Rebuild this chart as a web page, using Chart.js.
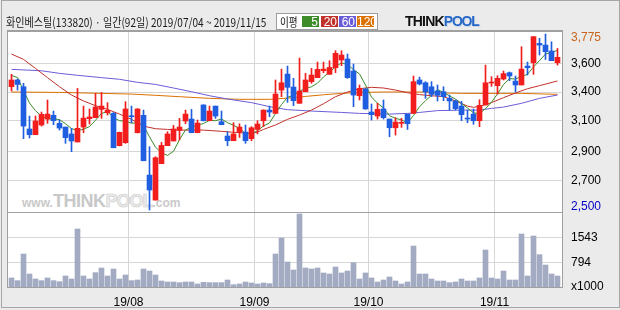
<!DOCTYPE html>
<html>
<head>
<meta charset="utf-8">
<script src="https://cdn.jsdelivr.net/npm/chart.js@4.4.1/dist/chart.umd.min.js"></script>
<style>
  body { margin: 0; background: #ebebeb; }
  #wrap { position: relative; width: 620px; height: 310px; overflow: hidden; background: #ebebeb; }
  #frame { position: absolute; left: 1px; top: 0; width: 619px; height: 308px; border: 1px solid #a6a6a6; box-sizing: border-box; }
  #plotbg { position: absolute; left: 8px; top: 31px; width: 554px; height: 257px; background: #fff; }
  #wm { position: absolute; left: 22px; top: 191px; font-family: "Liberation Sans", Arial, sans-serif; font-weight: bold; white-space: nowrap; line-height: 20px; }
  #wm .s { font-size: 12px; color: #c9c9c9; }
  #wm .t { font-size: 18px; color: #c8c8c8; letter-spacing: -0.5px; }
  #wm .p { font-size: 18px; color: #ececec; -webkit-text-stroke: 0.6px #cccccc; letter-spacing: -1px; }
  canvas { position: absolute; left: 0; top: 0; }
  #title { position: absolute; left: 6px; top: 14px; font-family: "Noto Sans CJK KR", sans-serif; font-size: 12px; line-height: 16px; color: #1a1a1a; white-space: nowrap; transform: scaleX(0.84); transform-origin: left center; }
  #legend { position: absolute; left: 276px; top: 13px; width: 102px; height: 17px; border: 1px solid #9c9c9c; background: #fff; box-sizing: border-box; }
  #legend .lbl { position: absolute; left: 3px; top: 0; font-family: "Noto Sans CJK KR", sans-serif; font-size: 12px; line-height: 15px; color: #111; transform: scaleX(0.8); transform-origin: left center; }
  #legend .b { position: absolute; top: 2px; width: 17px; height: 11px; color: #fff; font-family: "Liberation Sans", Arial, sans-serif; font-size: 12px; line-height: 12px; text-align: right; box-sizing: border-box; padding-right: 1px; }
  #logo { position: absolute; left: 405px; top: 12px; font-family: "Liberation Sans", Arial, sans-serif; font-weight: bold; font-size: 14px; line-height: 18px; white-space: nowrap; }
  #logo .t { color: #111; letter-spacing: -0.8px; }
  #logo .p { color: #2465c6; letter-spacing: -1.2px; text-shadow: 0 0 1px #fff, 1px 1px 0 #c9d4e6; }
</style>
</head>
<body>
<div id="wrap">
  <div id="frame"></div>
  <div id="plotbg"></div>
  <div id="wm"><span class="s">www.</span><span class="t">THINK</span><span class="p">POOL</span><span class="s">.com</span></div>
  <canvas id="c" width="620" height="310"></canvas>
  <div id="title">화인베스틸(133820) · 일간(92일) 2019/07/04 ~ 2019/11/15</div>
  <div id="legend">
    <span class="lbl">이평</span>
    <span class="b" style="left:25px;background:#3d8c29">5</span>
    <span class="b" style="left:44px;background:#c1312b">20</span>
    <span class="b" style="left:62px;background:#6a5cd8">60</span>
    <span class="b" style="left:80px;background:#dc7000">120</span>
  </div>
  <div id="logo"><span class="t">THINK</span><span class="p">POOL</span></div>
</div>
<script>
// daily candles, 2019/07/04 ~ 2019/11/15 (92 trading days)
const opens = [3393, 3442, 3393, 3087, 3046, 3116, 3159, 3186, 3128, 3101,
  3051, 2993, 3101, 3162, 3169, 3229, 3205, 3200, 2966, 2988,
  3180, 3060, 3186, 2753, 2572, 2836, 2966, 3000, 3077, 3145,
  3159, 3060, 3261, 3147, 3253, 3140, 3036, 3002, 3063, 3065,
  3017, 3084, 3147, 3224, 3200, 3369, 3485, 3391, 3273, 3357,
  3430, 3459, 3509, 3483, 3531, 3587, 3594, 3507, 3328, 3377,
  3210, 3181, 3232, 3159, 3096, 3128, 3195, 3200, 3442, 3422,
  3393, 3362, 3357, 3309, 3290, 3253, 3164, 3195, 3147, 3261,
  3420, 3401, 3449, 3495, 3434, 3406, 3543, 3567, 3707, 3695,
  3652, 3567];
const highs = [3483, 3449, 3418, 3181, 3181, 3210, 3297, 3217, 3152, 3101,
  3092, 3381, 3253, 3232, 3345, 3352, 3278, 3207, 3065, 3285,
  3253, 3235, 3224, 2959, 2886, 2990, 3067, 3113, 3164, 3224,
  3229, 3152, 3263, 3253, 3253, 3217, 3067, 3133, 3125, 3116,
  3104, 3147, 3226, 3253, 3442, 3521, 3543, 3454, 3601, 3490,
  3526, 3572, 3572, 3582, 3654, 3654, 3630, 3558, 3406, 3380,
  3268, 3273, 3297, 3159, 3169, 3164, 3195, 3471, 3463, 3430,
  3430, 3406, 3393, 3333, 3297, 3287, 3224, 3232, 3299, 3550,
  3466, 3473, 3507, 3500, 3471, 3683, 3572, 3756, 3744, 3775,
  3719, 3671];
const lows = [3362, 3369, 3017, 3022, 3046, 3108, 3128, 3118, 3079, 2983,
  2923, 2993, 3060, 3123, 3169, 3164, 3188, 2951, 2964, 2983,
  3133, 3058, 2857, 2500, 2572, 2836, 2966, 3000, 3007, 3125,
  3060, 3060, 3145, 3147, 3164, 3118, 2966, 3002, 3026, 2983,
  3002, 3051, 3104, 3176, 3200, 3321, 3280, 3256, 3273, 3357,
  3418, 3459, 3495, 3483, 3495, 3546, 3454, 3249, 3297, 3230,
  3152, 3159, 3159, 3031, 3043, 3099, 3084, 3200, 3406, 3309,
  3321, 3290, 3292, 3224, 3224, 3147, 3133, 3121, 3104, 3261,
  3396, 3340, 3442, 3437, 3355, 3406, 3478, 3483, 3623, 3591,
  3582, 3550];
const closes = [3442, 3410, 3108, 3046, 3145, 3193, 3195, 3147, 3094, 3024,
  3000, 3092, 3166, 3174, 3246, 3253, 3222, 2951, 3063, 3232,
  3176, 3232, 2857, 2645, 2879, 2968, 3051, 3087, 3101, 3195,
  3060, 3130, 3147, 3217, 3181, 3118, 3002, 3051, 3101, 3002,
  3096, 3123, 3224, 3210, 3340, 3422, 3389, 3292, 3362, 3442,
  3478, 3519, 3521, 3533, 3635, 3623, 3459, 3333, 3381, 3232,
  3191, 3229, 3169, 3096, 3137, 3135, 3125, 3430, 3413, 3355,
  3338, 3331, 3321, 3290, 3234, 3191, 3159, 3147, 3258, 3422,
  3425, 3454, 3488, 3471, 3406, 3521, 3531, 3756, 3695, 3647,
  3582, 3606];
// volume, x1000 shares
const volumes = [324, 244, 1043, 444, 294, 244, 324, 244, 214, 384,
  294, 1792, 384, 294, 484, 623, 384, 593, 294, 414,
  244, 264, 593, 533, 414, 234, 204, 204, 184, 204,
  204, 144, 194, 184, 184, 184, 264, 124, 144, 204,
  174, 144, 174, 154, 1043, 1522, 803, 563, 2241, 623,
  593, 623, 474, 444, 653, 474, 533, 783, 294, 474,
  324, 204, 264, 354, 234, 144, 204, 1282, 444, 444,
  294, 234, 234, 184, 204, 294, 234, 234, 324, 1163,
  324, 294, 533, 264, 264, 1642, 384, 1582, 1023, 713,
  444, 384];

// moving averages
const ma5 = [3475, 3460, 3365, 3275, 3220, 3180, 3160, 3160, 3155, 3125,
  3090, 3075, 3085, 3105, 3150, 3200, 3212, 3169, 3147, 3144,
  3129, 3131, 3112, 3030, 2955, 2915, 2895, 2926, 3010, 3080,
  3099, 3115, 3127, 3150, 3147, 3159, 3133, 3114, 3091, 3055,
  3050, 3075, 3109, 3131, 3199, 3264, 3317, 3331, 3361, 3381,
  3393, 3419, 3464, 3499, 3537, 3566, 3554, 3517, 3486, 3406,
  3319, 3273, 3240, 3183, 3164, 3153, 3132, 3185, 3248, 3292,
  3332, 3373, 3352, 3327, 3303, 3273, 3239, 3204, 3198, 3235,
  3282, 3341, 3409, 3452, 3449, 3468, 3483, 3537, 3582, 3630,
  3642, 3657];
const ma20Day = [0, 2, 4, 6, 8, 10, 12, 14, 16, 18, 20, 22, 24, 26, 28, 32, 35, 38, 40, 41, 42, 44, 46, 48, 50, 52, 54, 56, 58, 60, 62, 64, 66, 68, 70, 72, 74, 76, 77, 78, 80, 82, 84, 86, 88, 91];
const ma20Val = [3630, 3591, 3526, 3459, 3393, 3333, 3290, 3256, 3229, 3195, 3157, 3108, 3089, 3084, 3079, 3079, 3070, 3060, 3055, 3065, 3084, 3116, 3157, 3188, 3224, 3270, 3321, 3355, 3379, 3389, 3384, 3369, 3350, 3336, 3328, 3321, 3290, 3253, 3244, 3251, 3278, 3314, 3348, 3379, 3401, 3435];
const ma60Day = [0, 5, 8, 11, 15, 18, 21, 24, 27, 30, 33, 36, 40, 43, 46, 50, 55, 58, 63, 66, 68, 71, 75, 78, 80, 82, 85, 88, 91];
const ma60Val = [3519, 3509, 3490, 3476, 3459, 3447, 3425, 3410, 3384, 3357, 3328, 3304, 3278, 3249, 3227, 3217, 3207, 3200, 3195, 3200, 3207, 3220, 3224, 3224, 3236, 3246, 3273, 3309, 3333];
const ma120Day = [0, 8, 15, 20, 24, 28, 33, 38, 43, 46, 49, 52, 55, 58, 62, 69, 72, 75, 85, 91];
const ma120Val = [3355, 3352, 3345, 3340, 3331, 3321, 3309, 3302, 3302, 3311, 3323, 3335, 3345, 3352, 3355, 3355, 3348, 3345, 3345, 3338];

const monthLabels = ['19/08', '19/09', '19/10', '19/11'];
const monthStartDay = [20, 41, 60, 81];
const priceTickVals = [3746, 3563, 3355, 3147, 2922, 2712, 2524];
const priceTickLabels = ['3,775', '3,600', '3,400', '3,100', '2,900', '2,700', '2,500'];
const volTickVals = [1543, 794, 75];
const volTickLabels = ['1543', '794', 'x1000'];

// price panel on top, volume panel below, both share the plot height
const Y_MIN = 1935, Y_MAX = 3797;
const V_MIN = 24, V_MAX = 7724;
const volToPrice = v => Y_MIN + (v - V_MIN) / (V_MAX - V_MIN) * (Y_MAX - Y_MIN);

const UP = '#f21d1d';
const DOWN = '#1f5ee0';
const GRID = '#d7d7d7';
const NONE = 'rgba(0,0,0,0)';
const FONT = { family: 'Liberation Sans', size: 12 };

const days = closes.map((c, i) => i);
const candleColors = days.map(i => closes[i] >= opens[i] ? UP : DOWN);
const pts = (xs, ys) => xs.map((x, k) => ({ x: x, y: ys[k] }));

const axisVals = priceTickVals.concat(volTickVals.map(volToPrice));
const axisLabels = priceTickLabels.concat(volTickLabels);
const noGrid = [0, priceTickVals.length - 1, axisVals.length - 1];

// panel borders
const framePlugin = {
  id: 'frame',
  afterDraw(chart) {
    const ctx = chart.ctx;
    const a = chart.chartArea;
    ctx.save();
    ctx.fillStyle = '#a0a0a0';
    ctx.fillRect(a.left - 1, a.top - 1, a.width + 2, 2);
    ctx.fillRect(a.left - 1, a.top, 1, a.height);
    ctx.fillRect(a.right, a.top, 1, a.height);
    ctx.fillRect(a.left - 1, a.bottom - 1, a.width + 2, 1);
    ctx.fillRect(a.left - 1, 212, a.width + 2, 1);
    ctx.restore();
  }
};

new Chart(document.getElementById('c'), {
  type: 'bar',
  data: {
    datasets: [
      { label: 'body', data: days.map(i => ({ x: i, y: [opens[i], closes[i]] })),
        backgroundColor: candleColors, barThickness: 5, minBarLength: 1, grouped: false, yAxisID: 'y', order: 1 },
      { label: 'wick', data: days.map(i => ({ x: i, y: [lows[i], highs[i]] })),
        backgroundColor: candleColors, barThickness: 1, grouped: false, yAxisID: 'y', order: 2 },
      { label: 'volume', data: days.map(i => ({ x: i, y: volumes[i] })),
        backgroundColor: '#a3abc3', barThickness: 5, grouped: false, yAxisID: 'yv', order: 3 },
      { type: 'line', label: '5', data: pts(days, ma5), borderColor: '#3d8c29', borderWidth: 1, pointRadius: 0, yAxisID: 'y', order: 4 },
      { type: 'line', label: '20', data: pts(ma20Day, ma20Val), borderColor: '#c1312b', borderWidth: 1, pointRadius: 0, yAxisID: 'y', order: 5 },
      { type: 'line', label: '60', data: pts(ma60Day, ma60Val), borderColor: '#6a5cd8', borderWidth: 1, pointRadius: 0, yAxisID: 'y', order: 6 },
      { type: 'line', label: '120', data: pts(ma120Day, ma120Val), borderColor: '#dc7000', borderWidth: 1, pointRadius: 0, yAxisID: 'y', order: 7 }
    ]
  },
  options: {
    responsive: false,
    animation: false,
    devicePixelRatio: 1,
    layout: { padding: { left: 8, top: 31, right: 0, bottom: 0 } },
    plugins: { legend: { display: false }, tooltip: { enabled: false } },
    scales: {
      x: {
        type: 'linear', position: 'bottom', offset: false, min: -7 / 12, max: 91.75,
        afterBuildTicks: s => { s.ticks = monthStartDay.map(d => ({ value: d - 0.5 })); },
        afterFit: s => { s.height = 22; },
        ticks: { callback: (v, i) => monthLabels[i], color: '#000', font: FONT, padding: 7, maxRotation: 0, autoSkip: false },
        grid: { color: GRID, drawTicks: false, offset: false },
        border: { display: false }
      },
      y: {
        type: 'linear', position: 'right', min: Y_MIN, max: Y_MAX,
        afterBuildTicks: s => { s.ticks = axisVals.map(v => ({ value: v })); },
        afterFit: s => { s.width = 58; },
        ticks: {
          callback: (v, i) => axisLabels[i],
          color: c => c.index === 0 ? '#c8641e' : (c.index === priceTickVals.length - 1 ? '#0000c8' : '#000'),
          font: FONT, padding: 9, autoSkip: false
        },
        grid: { color: c => noGrid.includes(c.index) ? NONE : GRID, drawTicks: false },
        border: { display: false }
      },
      yv: { type: 'linear', display: false, min: V_MIN, max: V_MAX }
    }
  },
  plugins: [framePlugin]
});
</script>
</body>
</html>
